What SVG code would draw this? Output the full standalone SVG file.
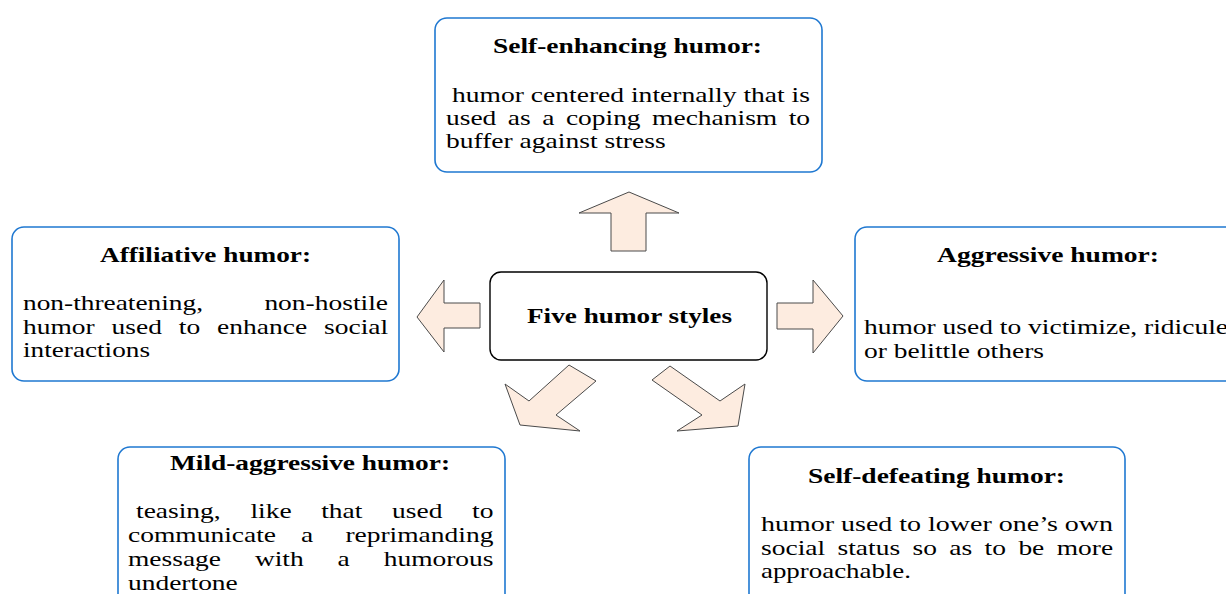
<svg xmlns="http://www.w3.org/2000/svg" width="1226" height="594" viewBox="0 0 1226 594">
<style>
.box{fill:#fff;stroke:#1f78d1;stroke-width:1.6}
.cbox{fill:#fff;stroke:#000;stroke-width:1.4}
.arr{fill:#fdece0;stroke:#4a4a4a;stroke-width:1}
text{font-family:"Liberation Serif","Times New Roman",serif;font-size:21px;fill:#000}
.t{font-weight:bold}
</style>
<rect width="1226" height="594" fill="#fff"/>
<g id="connectors">
<polygon class="arr" points="629,192 679,213 646,213 646,251 611,251 611,213 579,213"/>
<polygon class="arr" points="417,317 444,280 444,303 480,303 480,328 444,328 444,352"/>
<polygon class="arr" points="843,316 813,353 813,329 777,329 777,303 813,303 813,280"/>
<polygon class="arr" points="569,365 596,381 556,415 580,431 520,425 505,384 529,401"/>
<polygon class="arr" points="652,380 670,366 720,401 745,384 738,426 677,431 702,415"/>
</g>
<g id="self-enhancing">
<rect class="box" x="435" y="18" width="387" height="154" rx="12"/>
<text class="t" x="493" y="53" textLength="269" lengthAdjust="spacingAndGlyphs">Self-enhancing humor:</text>
<text x="452" y="102" textLength="358" lengthAdjust="spacingAndGlyphs">humor centered internally that is</text>
<text x="446" y="125" textLength="50.3" lengthAdjust="spacingAndGlyphs">used</text>
<text x="507.8" y="125" textLength="22.9" lengthAdjust="spacingAndGlyphs">as</text>
<text x="542.2" y="125" textLength="12.2" lengthAdjust="spacingAndGlyphs">a</text>
<text x="565.9" y="125" textLength="74.7" lengthAdjust="spacingAndGlyphs">coping</text>
<text x="652.1" y="125" textLength="125.1" lengthAdjust="spacingAndGlyphs">mechanism</text>
<text x="788.7" y="125" textLength="21.4" lengthAdjust="spacingAndGlyphs">to</text>
<text x="446" y="148" textLength="219.6" lengthAdjust="spacingAndGlyphs">buffer against stress</text>
</g>
<g id="center">
<rect class="cbox" x="490" y="272" width="277" height="88" rx="11"/>
<text class="t" x="527" y="323" textLength="205" lengthAdjust="spacingAndGlyphs">Five humor styles</text>
</g>
<g id="affiliative">
<rect class="box" x="12" y="227" width="387" height="154" rx="12"/>
<text class="t" x="100" y="262" textLength="211" lengthAdjust="spacingAndGlyphs">Affiliative humor:</text>
<text x="23" y="310" textLength="180" lengthAdjust="spacingAndGlyphs">non-threatening,</text>
<text x="264.4" y="310" textLength="123.6" lengthAdjust="spacingAndGlyphs">non-hostile</text>
<text x="23" y="334" textLength="71.7" lengthAdjust="spacingAndGlyphs">humor</text>
<text x="111.6" y="334" textLength="50.3" lengthAdjust="spacingAndGlyphs">used</text>
<text x="178.8" y="334" textLength="21.4" lengthAdjust="spacingAndGlyphs">to</text>
<text x="217.1" y="334" textLength="90" lengthAdjust="spacingAndGlyphs">enhance</text>
<text x="324" y="334" textLength="64.1" lengthAdjust="spacingAndGlyphs">social</text>
<text x="23" y="357" textLength="127" lengthAdjust="spacingAndGlyphs">interactions</text>
</g>
<g id="aggressive">
<rect class="box" x="855" y="227" width="387" height="154" rx="12"/>
<text class="t" x="937" y="262" textLength="222" lengthAdjust="spacingAndGlyphs">Aggressive humor:</text>
<text x="864" y="334" textLength="364" lengthAdjust="spacingAndGlyphs">humor used to victimize, ridicule</text>
<text x="864" y="358" textLength="180" lengthAdjust="spacingAndGlyphs">or belittle others</text>
</g>
<g id="mild-aggressive">
<rect class="box" x="118" y="447" width="387" height="170" rx="12"/>
<text class="t" x="170" y="470" textLength="280" lengthAdjust="spacingAndGlyphs">Mild-aggressive humor:</text>
<text x="136" y="518" textLength="84.7" lengthAdjust="spacingAndGlyphs">teasing,</text>
<text x="250.4" y="518" textLength="41.2" lengthAdjust="spacingAndGlyphs">like</text>
<text x="321.2" y="518" textLength="41.2" lengthAdjust="spacingAndGlyphs">that</text>
<text x="392.1" y="518" textLength="50.3" lengthAdjust="spacingAndGlyphs">used</text>
<text x="472" y="518" textLength="21.4" lengthAdjust="spacingAndGlyphs">to</text>
<text x="128" y="542" textLength="148" lengthAdjust="spacingAndGlyphs">communicate</text>
<text x="301" y="542" textLength="12.2" lengthAdjust="spacingAndGlyphs">a</text>
<text x="345.4" y="542" textLength="148" lengthAdjust="spacingAndGlyphs">reprimanding</text>
<text x="128" y="566" textLength="93" lengthAdjust="spacingAndGlyphs">message</text>
<text x="254.9" y="566" textLength="48.8" lengthAdjust="spacingAndGlyphs">with</text>
<text x="337.6" y="566" textLength="12.2" lengthAdjust="spacingAndGlyphs">a</text>
<text x="383.7" y="566" textLength="109.8" lengthAdjust="spacingAndGlyphs">humorous</text>
<text x="128" y="590" textLength="109.8" lengthAdjust="spacingAndGlyphs">undertone</text>
</g>
<g id="self-defeating">
<rect class="box" x="749" y="447" width="376" height="170" rx="12"/>
<text class="t" x="808" y="483" textLength="257" lengthAdjust="spacingAndGlyphs">Self-defeating humor:</text>
<text x="761" y="531" textLength="352" lengthAdjust="spacingAndGlyphs">humor used to lower one’s own</text>
<text x="761" y="555" textLength="64.1" lengthAdjust="spacingAndGlyphs">social</text>
<text x="837.5" y="555" textLength="62.6" lengthAdjust="spacingAndGlyphs">status</text>
<text x="912.5" y="555" textLength="24.4" lengthAdjust="spacingAndGlyphs">so</text>
<text x="949.3" y="555" textLength="22.9" lengthAdjust="spacingAndGlyphs">as</text>
<text x="984.6" y="555" textLength="21.4" lengthAdjust="spacingAndGlyphs">to</text>
<text x="1018.4" y="555" textLength="25.9" lengthAdjust="spacingAndGlyphs">be</text>
<text x="1056.7" y="555" textLength="56.4" lengthAdjust="spacingAndGlyphs">more</text>
<text x="761" y="578" textLength="150" lengthAdjust="spacingAndGlyphs">approachable.</text>
</g>
</svg>
